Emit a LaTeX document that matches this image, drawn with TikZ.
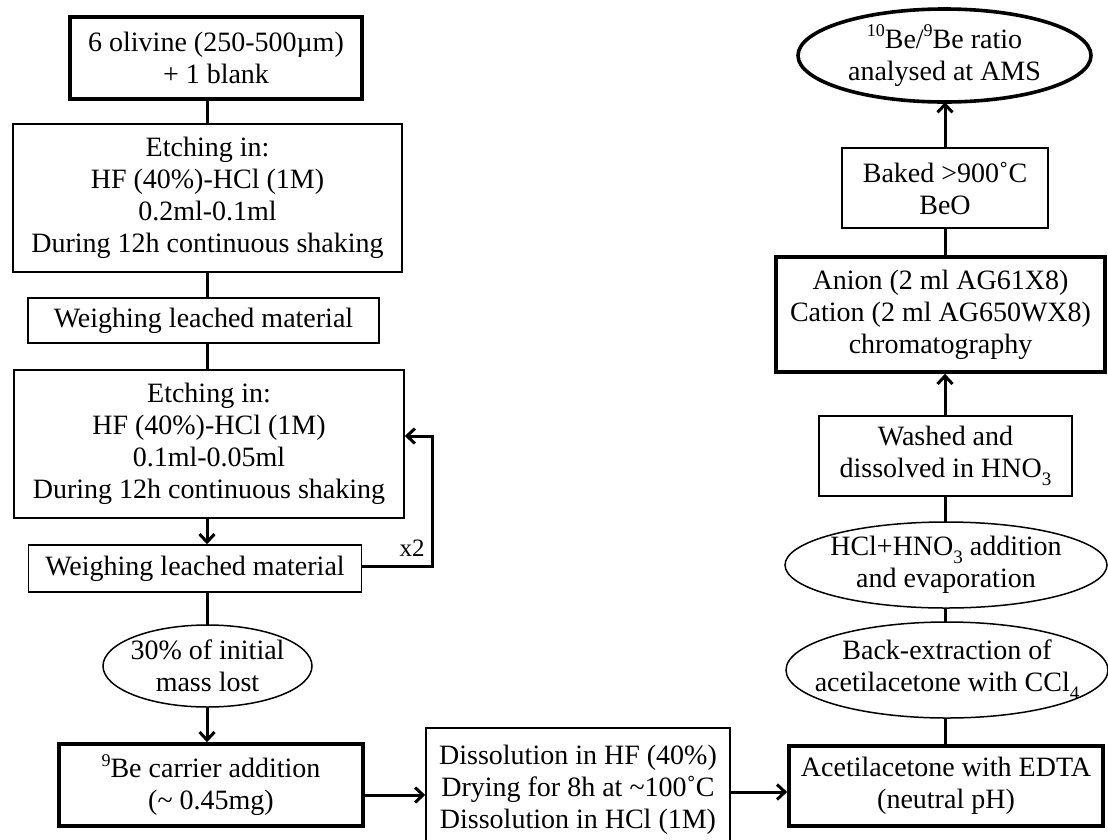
\documentclass[tikz,border=0pt]{standalone}
\usepackage{fontspec}
\setmainfont{Liberation Serif}
\usetikzlibrary{arrows.meta,shapes.geometric}
\newcommand{\mysub}[1]{\raisebox{-0.28em}{\fontsize{19}{19}\selectfont #1}}
\newcommand{\mysup}[1]{\raisebox{0.42em}{\fontsize{18}{18}\selectfont #1}}
\begin{document}
\begin{tikzpicture}[x=1pt,y=-1pt,
  base/.style={align=center, font=\fontsize{28}{32}\selectfont, inner sep=0pt, text=black},
  thinbox/.style={base, draw, rectangle, line width=1.5pt},
  thickbox/.style={base, draw, rectangle, line width=3.6pt},
  ellnode/.style={base, rectangle},
  thinline/.style={line width=1.5pt},
  thickline/.style={line width=3.6pt},
  conn/.style={line width=3pt},
  arr/.style={conn, -{Straight Barb[length=8pt,width=15pt]}},
]
\useasboundingbox (0,0) rectangle (1108,839);
\clip (0,0) rectangle (1108,839);
\fill[white] (0,0) rectangle (1108,839);

\coordinate (colL) at (207,0);
\coordinate (colR) at (945,0);

% left column
\node[thickbox, minimum width=292pt, minimum height=82pt] (b1) at (216,58) {6 olivine (250-500µm)\\+ 1 blank};
\node[thinbox, minimum width=389pt, minimum height=148pt] (b2) at (207.5,198) {Etching in:\\HF (40\%)-HCl (1M)\\0.2ml-0.1ml\\During 12h continuous shaking};
\node[thinbox, minimum width=351pt, minimum height=45pt] (b3) at (203.5,320.5) {Weighing leached material};
\node[thinbox, minimum width=390pt, minimum height=148pt] (b4) at (209,444) {Etching in:\\HF (40\%)-HCl (1M)\\0.1ml-0.05ml\\During 12h continuous shaking};
\node[thinbox, minimum width=333pt, minimum height=47pt] (b5) at (195,568.5) {Weighing leached material};
\node[ellnode, minimum width=209pt, minimum height=82pt] (e1) at (207.5,666) {30\% of initial\\mass lost};
\draw[thinline] (e1.center) ellipse [x radius=104.5pt, y radius=41pt];
\node[thickbox, minimum width=304pt, minimum height=82pt] (b6) at (211,785) {\mysup{9}Be carrier addition\\(\textasciitilde\ 0.45mg)};

% bottom middle
\node[thinbox, minimum width=304pt, minimum height=124pt] (b7) at (578,790) {Dissolution in HF (40\%)\\Drying for 8h at \textasciitilde100˚C\\Dissolution in HCl (1M)};

% right column
\node[thickbox, minimum width=314pt, minimum height=80pt] (b8) at (946,786) {Acetilacetone with EDTA\\(neutral pH)};
\node[ellnode, minimum width=322pt, minimum height=96pt] (e2) at (947,670) {Back-extraction of\\acetilacetone with CCl\mysub{4}};
\draw[thinline] (e2.center) ellipse [x radius=161pt, y radius=48pt];
\node[ellnode, minimum width=322pt, minimum height=86pt] (e3) at (946,565) {HCl+HNO\mysub{3} addition\\and evaporation};
\draw[thinline] (e3.center) ellipse [x radius=161pt, y radius=43pt];
\node[thinbox, minimum width=253pt, minimum height=80pt] (b9) at (945.5,456) {Washed and\\dissolved in HNO\mysub{3}};
\node[thickbox, minimum width=329pt, minimum height=115pt] (b10) at (940.5,314.5) {Anion (2 ml AG61X8)\\Cation (2 ml AG650WX8)\\chromatography};
\node[thinbox, minimum width=206pt, minimum height=80pt] (b11) at (945,188) {Baked >900˚C\\BeO};
\node[ellnode, minimum width=293pt, minimum height=93pt] (e4) at (944.5,55.5) {\mysup{10}Be/\mysup{9}Be ratio\\analysed at AMS};
\draw[thickline] (e4.center) ellipse [x radius=146.5pt, y radius=46.5pt];

% connectors left
\draw[conn] (b1.south -| colL) -- (b2.north -| colL);
\draw[conn] (b2.south -| colL) -- (b3.north -| colL);
\draw[conn] (b3.south -| colL) -- (b4.north -| colL);
\draw[arr] (b4.south -| colL) -- (b5.north -| colL);
\draw[conn] (b5.south -| colL) -- (e1.north -| colL);
\draw[arr] (e1.south -| colL) -- (b6.north -| colL);

% loop
\coordinate (lp) at (432,436);
\draw[arr] ([yshift=2pt]b5.east) -| (lp) -- (lp -| b4.east);
\node[base, font=\fontsize{25}{28}\selectfont] (x2) at (412,548) {x2};

% bottom
\draw[arr] ([yshift=-10pt]b6.east) -- ([yshift=-10pt]b6.east -| b7.west);
\draw[arr] ([yshift=-6pt]b8.west -| b7.east) -- ([yshift=-6pt]b8.west);

% connectors right
\draw[conn] (b8.north -| colR) -- (e2.south -| colR);
\draw[conn] (e2.north -| colR) -- (e3.south -| colR);
\draw[conn] (e3.north -| colR) -- (b9.south -| colR);
\draw[arr] (b9.north -| colR) -- (b10.south -| colR);
\draw[conn] (b10.north -| colR) -- (b11.south -| colR);
\draw[arr] (b11.north -| colR) -- (e4.south -| colR);
\end{tikzpicture}
\end{document}
